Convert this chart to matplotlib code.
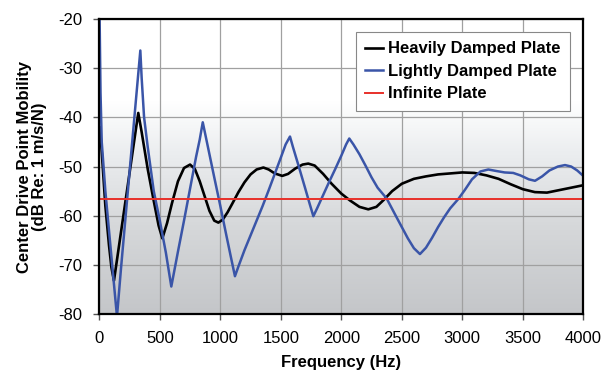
import matplotlib.pyplot as plt
import numpy as np
from matplotlib.colors import LinearSegmentedColormap

# Heavily damped plate (Hz, dB)
heavy_f = [5, 20, 50, 80, 100, 121, 150, 200, 250, 290, 322, 350, 400, 450, 490, 521,
           560, 600, 650, 700, 750, 790, 830, 870, 910, 950, 984, 1020, 1060, 1100, 1150,
           1200, 1250, 1300, 1356, 1400, 1450, 1512, 1560, 1620, 1680, 1727, 1780, 1850,
           1920, 2000, 2072, 2150, 2223, 2290, 2350, 2420, 2500, 2600, 2700, 2800, 2900,
           3000, 3100, 3200, 3300, 3400, 3500, 3600, 3700, 3800, 3900, 4000]
heavy_db = [-42, -47, -58, -66, -70.5, -73.2, -68.3, -59.8, -51.3, -44.5, -39.1, -43, -50.5,
            -57, -62, -64.6, -61.5, -57.5, -53, -50.3, -49.6, -50.5, -53, -56, -59, -61,
            -61.4, -60.8, -59.3, -57.5, -55.2, -53.2, -51.6, -50.6, -50.2, -50.6, -51.4,
            -51.9, -51.5, -50.4, -49.6, -49.4, -49.8, -51.5, -53.5, -55.5, -56.9, -58.2,
            -58.7, -58.2, -56.8, -55, -53.5, -52.5, -52, -51.6, -51.4, -51.2, -51.3, -51.8,
            -52.5, -53.6, -54.6, -55.2, -55.3, -54.8, -54.3, -53.8]

# Lightly damped plate (Hz, dB)
light_f = [0, 10, 20, 50, 80, 110, 146, 180, 220, 260, 300, 339, 350, 370, 400, 450, 500,
           550, 595, 650, 700, 750, 800, 830, 855, 900, 950, 1000, 1050, 1090, 1121, 1150,
           1200, 1250, 1300, 1350, 1400, 1450, 1500, 1540, 1576, 1600, 1650, 1700, 1740,
           1769, 1800, 1850, 1900, 1950, 2000, 2040, 2066, 2100, 2150, 2200, 2250, 2300,
           2375, 2450, 2500, 2550, 2600, 2650, 2700, 2750, 2800, 2850, 2900, 2967, 3020,
           3080, 3150, 3215, 3280, 3350, 3421, 3480, 3550, 3601, 3660, 3720, 3790, 3849,
           3900, 3950, 4000]
light_db = [-15, -35, -45, -55, -63, -71, -80.5, -70.5, -59.4, -48.3, -37.2, -26.4, -32,
            -40, -46, -55, -61, -67.5, -74.4, -67.3, -61, -54.5, -48, -44.5, -41, -46.3,
            -52.2, -58, -64, -68.7, -72.3, -70.3, -67, -64, -61, -58, -54.8, -51.5, -48.2,
            -45.5, -43.9, -46, -50.1, -54.3, -57.7, -60.1, -58.5, -55.8, -53.1, -50.5,
            -47.8, -45.5, -44.3, -45.5, -47.5, -49.8, -52.2, -54.3, -56.5, -60, -62.3,
            -64.6, -66.6, -67.8, -66.5, -64.5, -62.3, -60.3, -58.5, -56.6, -54.8, -52.6,
            -51, -50.6, -50.9, -51.2, -51.3, -51.8, -52.6, -52.9, -52, -50.8, -50, -49.7,
            -50, -50.8, -51.9]

# Infinite plate
inf_f = [0, 4000]
inf_db = [-56.5, -56.5]

x_ticks = [0, 500, 1000, 1500, 2000, 2500, 3000, 3500, 4000]
y_ticks = [-80, -70, -60, -50, -40, -30, -20]

plt.rcParams['font.family'] = ['Liberation Sans', 'DejaVu Sans']
plt.rcParams['axes.unicode_minus'] = False

fig = plt.figure(figsize=(6.03, 3.73), dpi=100)
ax = fig.add_axes([0.1647, 0.158, 0.8026, 0.791])

# white-to-gray backdrop
bg = LinearSegmentedColormap.from_list(
    "bg", [(0.0, "#c4c6c9"), (0.3, "#d6d8da"), (0.55, "#eceef0"), (0.72, "#ffffff"), (1.0, "#ffffff")])
ax.imshow(np.linspace(0, 1, 256).reshape(-1, 1), cmap=bg, origin="lower", aspect="auto",
          extent=[0, 1, 0, 1], transform=ax.transAxes, zorder=0)

ax.grid(True, color="#a0a0a0", linewidth=0.9, zorder=1)
ax.set_axisbelow(True)

ax.plot(heavy_f, heavy_db, color="black", lw=1.9, label="Heavily Damped Plate", zorder=3)
ax.plot(light_f, light_db, color="#3a55a8", lw=1.8, label="Lightly Damped Plate", zorder=3)
ax.plot(inf_f, inf_db, color="#e8302a", lw=1.4, label="Infinite Plate", zorder=3)

ax.set_xlim(0, 4000)
ax.set_ylim(-80, -20)
ax.set_xticks(x_ticks)
ax.set_yticks(y_ticks)
ax.tick_params(labelsize=12, length=4, width=1, color="#555555", pad=8)

for side in ax.spines:
    ax.spines[side].set_linewidth(1.6)
    ax.spines[side].set_color("black")
    ax.spines[side].set_zorder(4)

ax.set_xlabel("Frequency (Hz)", fontsize=12, fontweight="bold", labelpad=6.5)
ax.set_ylabel("Center Drive Point Mobility\n(dB Re: 1 m/s/N)", fontsize=12,
              fontweight="bold", labelpad=8, linespacing=1.05)

leg = ax.legend(loc="upper right", bbox_to_anchor=(0.9725, 0.955), borderaxespad=0,
                prop={"size": 12, "weight": "bold"}, handlelength=1.1, handletextpad=0.3,
                labelspacing=0.45, fancybox=False, framealpha=1, edgecolor="#888888",
                borderpad=0.55)
leg.get_frame().set_linewidth(0.8)

fig.savefig("out.png", dpi=100)
